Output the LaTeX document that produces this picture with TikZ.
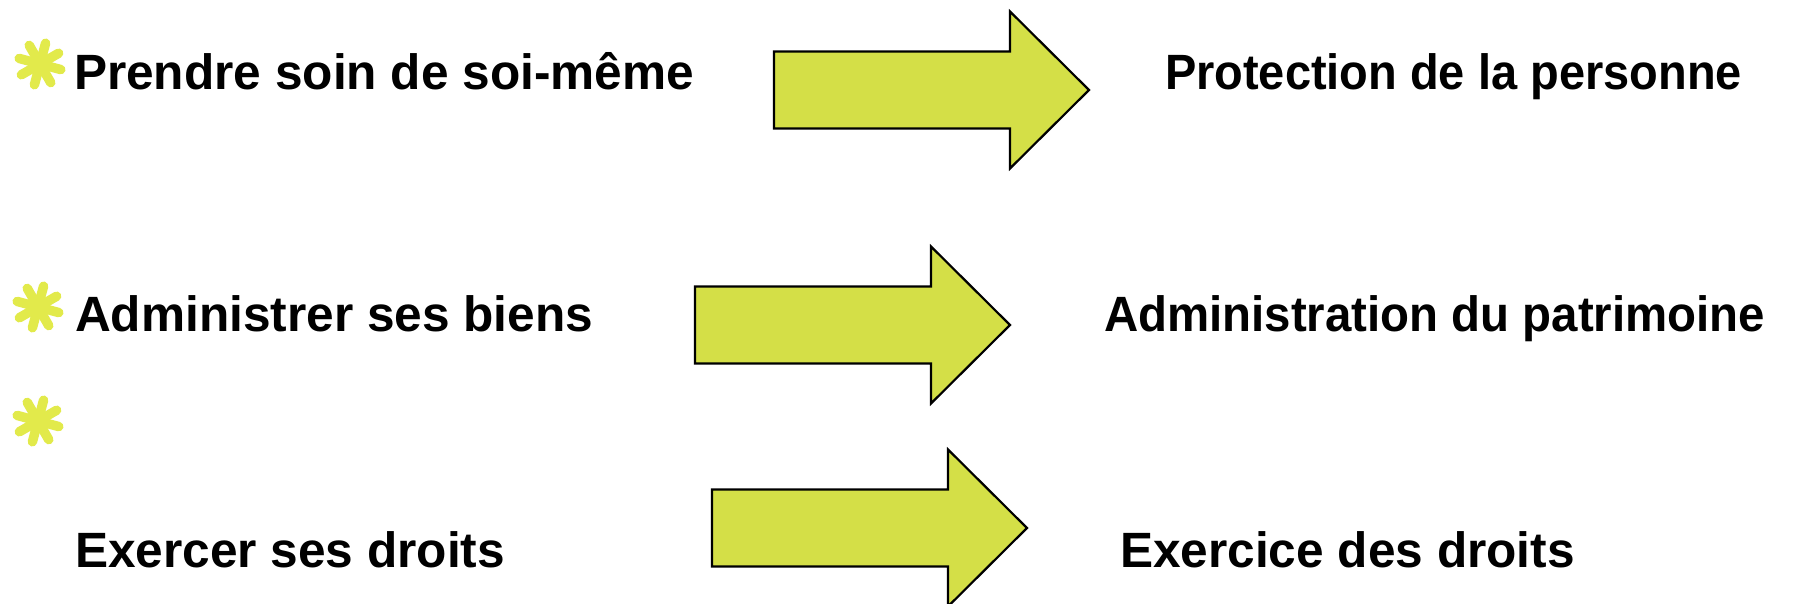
\documentclass[tikz,border=0pt]{standalone}
\usepackage{fontspec}
\setmainfont{Liberation Sans}
\definecolor{arrowfill}{HTML}{D4DF47}
\definecolor{starfill}{HTML}{E2EA4B}
\tikzset{
  x=1pt, y=-1pt,
  label text/.style={anchor=base west, inner sep=0pt, outer sep=0pt,
    font=\fontsize{49.6pt}{58pt}\selectfont\bfseries},
  bigarrow/.style={draw=black, line width=2.2pt, fill=arrowfill, line join=miter},
  starbullet/.pic={
    \foreach \a in {75,120,165,210,255,300,345,30}{
      \draw[starfill, line width=9.5pt, line cap=round] (0,0) -- (\a:21.5pt);
    }
  },
  fatarrow/.pic={
    \draw[bigarrow] (0,-38.5) -- (236,-38.5) -- (236,-78.5) -- (315,0)
      -- (236,78.5) -- (236,38.5) -- (0,38.5) -- cycle;
  }
}
\begin{document}
\begin{tikzpicture}
\useasboundingbox[fill=white] (0,0) rectangle (1800,604);

% bullets
\pic at (40,64) {starbullet};
\pic at (38,307) {starbullet};
\pic at (38,421) {starbullet};

% left texts
\node[label text] (l1) at (74,90) {Prendre soin de soi-même};
\node[label text] (l2) at (75,331) {Administrer ses biens};
\node[label text] (l3) at (75,567) {Exercer ses droits};

% arrows
\pic at (774,90) {fatarrow};
\pic at (695,325) {fatarrow};
\pic at (712,528) {fatarrow};

% right texts
\node[label text, xscale=0.947] (r1) at (1165,90) {Protection de la personne};
\node[label text, xscale=0.956] (r2) at (1104,331) {Administration du patrimoine};
\node[label text] (r3) at (1120,567) {Exercice des droits};
\end{tikzpicture}
\end{document}
